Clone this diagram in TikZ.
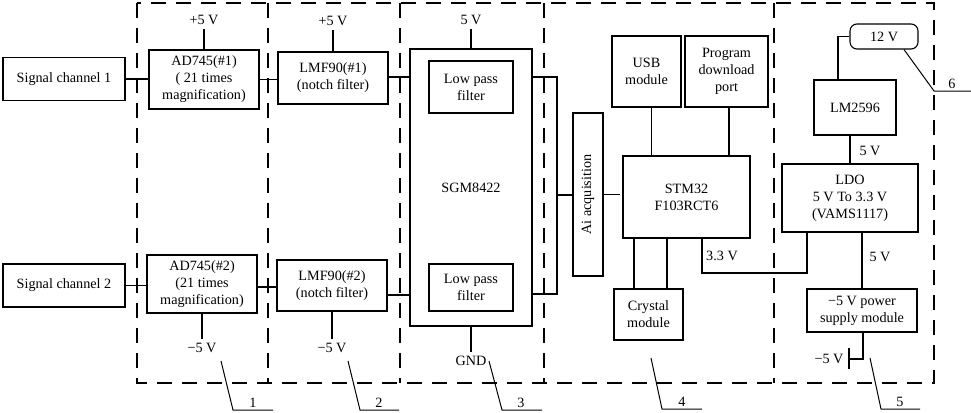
\documentclass[tikz,border=0pt]{standalone}
\usepackage{fontspec}
\setmainfont{Liberation Serif}
\newcommand\myfs{\fontsize{14.2}{17}\selectfont}
\begin{document}
\begin{tikzpicture}[x=1pt,y=-1pt, line width=1.1pt,
  box/.style={draw, rectangle, align=center, inner sep=1pt, font=\myfs},
  lbl/.style={inner sep=4pt, font=\myfs},
  num/.style={inner sep=1.5pt, font=\myfs, anchor=south},
  frame/.style={dash pattern=on 15pt off 10pt, line width=1.2pt},
  lead/.style={line width=1pt}]
\useasboundingbox (0,0) rectangle (971,412);

% dashed frame and dividers
\draw[frame] (137,3) rectangle (934,383);
\foreach \xx in {268,400,544,774} \draw[frame] (\xx,3) -- (\xx,383);

% top channel
\node[box, minimum width=122pt, minimum height=43pt] (sc1) at (64,79) {Signal channel 1};
\node[box, minimum width=110pt, minimum height=59pt] (ad1) at (204,79.5) {AD745(\#1)\\( 21 times\\magnification)};
\node[box, minimum width=110pt, minimum height=52pt] (lmf1) at (333,78) {LMF90(\#1)\\(notch filter)};
% bottom channel
\node[box, minimum width=122pt, minimum height=43pt] (sc2) at (64,285.5) {Signal channel 2};
\node[box, minimum width=110pt, minimum height=58pt] (ad2) at (202,284) {AD745(\#2)\\(21 times\\magnification)};
\node[box, minimum width=110pt, minimum height=51pt] (lmf2) at (332,285.5) {LMF90(\#2)\\(notch filter)};
% SGM8422
\node[box, minimum width=122pt, minimum height=277pt] (sgm) at (471,187.5) {SGM8422};
\node[box, minimum width=84pt, minimum height=52pt] (lpf1) at (471,87) {Low pass\\filter};
\node[box, minimum width=84pt, minimum height=47pt] (lpf2) at (471,287.5) {Low pass\\filter};
% acquisition / MCU
\node[box, rotate=90, minimum width=163pt, minimum height=30pt] (ai) at (588,194.5) {Ai acquisition};
\node[box, minimum width=127pt, minimum height=82pt] (stm) at (686.5,197) {STM32\\F103RCT6};
\node[box, minimum width=69pt, minimum height=71pt] (usb) at (646.5,71.5) {USB\\module};
\node[box, minimum width=83pt, minimum height=71pt] (prog) at (726.5,71.5) {Program\\download\\port};
\node[box, minimum width=69pt, minimum height=51pt] (crys) at (648.5,314.5) {Crystal\\module};
% power
\node[box, rounded corners=7pt, minimum width=68pt, minimum height=25pt] (v12) at (884,36.5) {12 V};
\node[box, minimum width=82pt, minimum height=55pt] (lm) at (855,107.5) {LM2596};
\node[box, minimum width=136pt, minimum height=68pt] (ldo) at (850,198) {LDO\\5 V To 3.3 V\\(VAMS1117)};
\node[box, minimum width=110pt, minimum height=43pt] (neg) at (862,310.5) {−5 V power\\supply module};

% supply labels
\node[lbl] (p1) at (204,20) {+5 V};
\node[lbl] (p2) at (333,21) {+5 V};
\node[lbl] (p3) at (471,20) {5 V};
\node[lbl] (gnd) at (471,361) {GND};
\node[lbl] (m1) at (202,348) {−5 V};
\node[lbl] (m2) at (332,348) {−5 V};
\node[lbl] (l33) at (722,256) {3.3 V};
\node[lbl] (l5a) at (870,151) {5 V};
\node[lbl] (l5b) at (880,257) {5 V};
\node[lbl, anchor=east, inner sep=2pt] (m3) at (846,359) {−5 V};

\draw (ad1.north) -- (p1.south);
\draw (lmf1.north) -- (p2.south);
\draw (sgm.north) -- (p3.south);
\draw (sgm.south) -- (gnd.north);
\draw (ad2.south) -- (m1.north);
\draw (lmf2.south) -- (m2.north);

% signal path
\draw (sc1.east) -- (sc1.east -| ad1.west);
\draw (ad1.east) -- (ad1.east -| lmf1.west);
\draw ([yshift=1pt]lmf1.east) -- ([yshift=1pt]lmf1.east -| sgm.west);
\draw (sc2.east) -- (sc2.east -| ad2.west);
\draw ([yshift=-3pt]ad2.east) -- ([yshift=-3pt]ad2.east -| lmf2.west);
\draw ([yshift=-9.5pt]lmf2.east) -- ([yshift=-9.5pt]lmf2.east -| sgm.west);

% SGM outputs bus
\coordinate (b1) at (557,77);
\coordinate (b2) at (557,294);
\coordinate (bm) at (557,195);
\draw (sgm.east |- b1) -- (b1) -- (b2) -- (sgm.east |- b2);
\draw (bm) -- (bm -| ai.north);
\draw ([xshift=-2pt]ai.south) -- ([xshift=-2pt]ai.south -| stm.west);

% MCU peripherals
\draw ([xshift=5pt]usb.south) -- ([xshift=5pt]usb.south |- stm.north);
\draw ([xshift=2.5pt]prog.south) -- ([xshift=2.5pt]prog.south |- stm.north);
\draw ([xshift=-14.5pt]crys.north) -- ([xshift=-14.5pt]crys.north |- stm.south);
\draw ([xshift=18.5pt]crys.north) -- ([xshift=18.5pt]crys.north |- stm.south);

% 3.3 V
\coordinate (k1) at (702,273);
\coordinate (k2) at (807,273);
\draw (k1 |- stm.south) -- (k1) -- (k2) -- (k2 |- ldo.south);

% power chain
\coordinate (k3) at (838,36.5);
\draw (v12.west) -- (k3) -- (k3 |- lm.north);
\draw ([xshift=-5pt]lm.south) -- ([xshift=-5pt]lm.south |- ldo.north);
\draw (neg.north) -- (neg.north |- ldo.south);
\coordinate (k5) at (849,359);
\draw ([xshift=1pt]neg.south) -- ([xshift=1pt]neg.south |- k5) -- (k5);
\draw ([yshift=11pt]k5) -- ([yshift=-10pt]k5);

% leaders with numbers
\coordinate (a1) at (221,361); \coordinate (c1) at (233,410); \coordinate (e1) at (273,410);
\coordinate (a2) at (348,361); \coordinate (c2) at (360,410); \coordinate (e2) at (399,410);
\coordinate (a3) at (489,361); \coordinate (c3) at (502,410); \coordinate (e3) at (542,410);
\coordinate (a4) at (651,358); \coordinate (c4) at (662,409); \coordinate (e4) at (702,409);
\coordinate (a5) at (870,358); \coordinate (c5) at (881,409); \coordinate (e5) at (920,409);
\coordinate (c6) at (934,91); \coordinate (e6) at (971,91);
\draw[lead] (a1) -- (c1) -- (e1);
\draw[lead] (a2) -- (c2) -- (e2);
\draw[lead] (a3) -- (c3) -- (e3);
\draw[lead] (a4) -- (c4) -- (e4);
\draw[lead] (a5) -- (c5) -- (e5);
\draw[lead] ([xshift=20pt]v12.south) -- (c6) -- (e6);
\node[num] (n1) at (253,410) {1};
\node[num] (n2) at (379,410) {2};
\node[num] (n3) at (521,410) {3};
\node[num] (n4) at (682,409) {4};
\node[num] (n5) at (900,409) {5};
\node[num] (n6) at (952,91) {6};
\end{tikzpicture}
\end{document}
